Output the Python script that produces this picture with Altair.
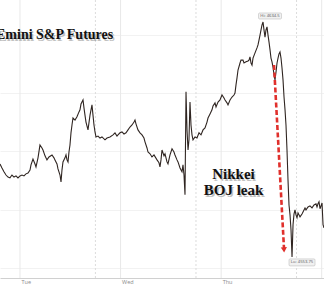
import altair as alt
import pandas as pd

# Time in hours from Tuesday 00:00 (ET), and the Emini S&P futures price
hours = [-4.77, -4.30, -3.82, -3.34, -2.86, -2.39, -1.91, -1.43, -0.95, -0.48,
         0.00, 0.48, 0.95, 1.43, 1.91, 2.39, 2.63, 3.10, 3.58, 3.82,
         4.30, 4.77, 5.25, 5.49, 5.97, 6.44, 6.92, 7.64, 8.11, 8.35,
         8.83, 9.07, 9.55, 9.79, 10.02, 10.26, 10.74, 10.98, 11.22, 11.46,
         11.69, 11.93, 12.17, 12.41, 12.65, 13.13, 13.60, 14.08, 14.32, 14.56,
         15.04, 15.27, 15.51, 15.75, 16.23, 16.71, 17.18, 17.42, 17.66, 17.90,
         18.14, 18.62, 19.09, 19.57, 20.29, 20.76, 21.48, 22.20, 22.67, 23.15,
         23.39, 23.87, 24.34, 24.82, 25.30, 25.78, 26.25, 26.73, 27.21, 27.45,
         27.68, 28.16, 28.64, 29.12, 29.59, 29.83, 30.31, 30.55, 31.03, 31.50,
         31.98, 32.70, 33.17, 33.41, 33.65, 33.89, 34.37, 34.61, 35.08, 35.32,
         35.80, 36.28, 36.75, 36.99, 37.47, 37.71, 38.19, 38.66, 38.90, 39.14,
         39.38, 39.62, 39.86, 40.10, 40.33, 40.57, 40.81, 41.05, 41.29, 41.77,
         42.24, 42.72, 43.20, 43.68, 44.15, 44.63, 44.87, 45.35, 45.82, 46.06,
         46.54, 46.78, 47.26, 47.73, 48.21, 48.69, 48.93, 49.40, 49.64, 50.12,
         50.60, 51.07, 51.31, 51.55, 51.79, 52.03, 52.51, 52.74, 53.22, 53.46,
         53.94, 54.42, 54.65, 54.89, 55.13, 55.37, 55.61, 56.09, 56.56, 56.80,
         57.04, 57.28, 57.52, 57.76, 58.00, 58.23, 58.47, 58.71, 58.95, 59.19,
         59.43, 59.67, 59.90, 60.14, 60.38, 60.62, 60.86, 61.10, 61.34, 61.58,
         61.81, 62.05, 62.29, 62.53, 62.77, 63.01, 63.25, 63.48, 63.72, 63.96,
         64.20, 64.44, 64.68, 64.92, 65.16, 65.39, 65.63, 65.87, 66.11, 66.35,
         66.83, 67.30, 67.54, 68.02, 68.26, 68.74, 69.21, 69.69, 70.17, 70.64,
         70.88, 71.12, 71.36, 71.60, 71.84, 72.08, 72.32, 72.55]
prices = [4585.7, 4584.3, 4583.0, 4581.9, 4581.2, 4580.9, 4581.9, 4581.2, 4581.6, 4580.9,
          4581.6, 4581.9, 4581.6, 4582.3, 4582.6, 4583.6, 4585.4, 4587.4, 4585.7, 4584.7,
          4587.8, 4592.2, 4591.2, 4590.5, 4588.5, 4587.1, 4588.1, 4588.8, 4587.8, 4587.1,
          4585.7, 4584.0, 4581.9, 4579.5, 4583.6, 4586.4, 4587.8, 4588.8, 4587.1, 4586.4,
          4589.8, 4592.2, 4596.4, 4599.1, 4601.5, 4600.8, 4601.9, 4603.6, 4604.3, 4606.3,
          4607.7, 4605.0, 4602.5, 4600.1, 4597.4, 4602.5, 4606.0, 4602.5, 4599.1, 4596.7,
          4595.0, 4595.3, 4594.6, 4595.0, 4594.0, 4594.6, 4595.0, 4595.7, 4596.4, 4595.3,
          4595.7, 4596.4, 4596.7, 4596.0, 4596.4, 4597.4, 4598.4, 4599.1, 4600.1, 4600.8,
          4599.5, 4597.4, 4596.4, 4595.7, 4594.6, 4593.3, 4591.2, 4589.8, 4589.2, 4588.1,
          4588.8, 4587.1, 4586.1, 4584.7, 4587.1, 4590.5, 4588.5, 4589.2, 4586.4, 4585.7,
          4588.8, 4590.9, 4589.8, 4588.8, 4587.1, 4586.4, 4584.3, 4583.0, 4585.4, 4581.9,
          4575.1, 4610.5, 4597.4, 4590.5, 4594.0, 4607.0, 4599.1, 4595.7, 4594.0, 4595.0,
          4594.6, 4596.4, 4595.7, 4597.4, 4598.1, 4600.1, 4601.5, 4602.9, 4604.3, 4605.6,
          4606.7, 4605.3, 4607.0, 4607.7, 4609.4, 4608.4, 4607.7, 4606.7, 4606.0, 4607.7,
          4608.7, 4609.4, 4610.1, 4612.9, 4615.3, 4618.0, 4620.4, 4621.4, 4621.4, 4620.4,
          4620.8, 4621.1, 4621.4, 4622.5, 4620.4, 4619.7, 4622.1, 4623.9, 4625.6, 4626.6,
          4628.3, 4630.0, 4631.8, 4633.5, 4634.5, 4631.8, 4629.3, 4631.8, 4632.8, 4630.0,
          4627.6, 4624.9, 4622.1, 4620.8, 4619.0, 4616.3, 4614.6, 4617.3, 4620.4, 4622.1,
          4623.5, 4624.2, 4622.1, 4618.7, 4614.6, 4608.7, 4604.3, 4599.1, 4590.5, 4580.2,
          4571.6, 4568.2, 4563.0, 4553.75, 4564.8, 4568.5, 4569.9, 4568.2, 4567.2, 4568.9,
          4567.5, 4568.5, 4569.2, 4570.6, 4569.9, 4570.9, 4571.3, 4570.6, 4571.6, 4572.0,
          4570.9, 4572.0, 4572.7, 4570.3, 4571.3, 4572.3, 4564.8, 4563.7]

day_starts = [0, 24, 48, 72]
day_names = ["Tue", "Wed", "Thu"]
session_opens = [18, 42, 66]

hi_hour, hi_price = 58.00, 4634.5
lo_hour, lo_price = 64.92, 4553.75
arrow_from = (60.62, 4619.7)
arrow_to = (63.01, 4556.5)

x_domain = [-4.77, 72.55]
y_domain = [4546.5, 4642.06]

W, H = 324, 278

price_df = pd.DataFrame({"h": hours, "p": prices})
xs = alt.Scale(domain=x_domain, nice=False, zero=False)
ys = alt.Scale(domain=y_domain, nice=False, zero=False)

label_expr = (
    "datum.value == 0 ? '%s' : datum.value == 24 ? '%s' : datum.value == 48 ? '%s' : ''"
    % tuple(day_names)
)

grid = alt.Chart(pd.DataFrame({"p": [4600]})).mark_point(opacity=0).encode(
    x=alt.X("p:Q", scale=xs, title=None,
            axis=alt.Axis(values=day_starts[:3], labelExpr=label_expr, grid=False,
                          ticks=False, domainColor="#d0d0d0", domainWidth=1,
                          labelColor="#8a8a8a", labelFontSize=5.5, labelFont="Open Sans",
                          labelAlign="left", labelPadding=1.5, labelOffset=1)),
    y=alt.Y("p:Q", scale=ys, title=None,
            axis=alt.Axis(values=list(range(4550, 4645, 5)), labels=False, ticks=False,
                          domain=False, grid=True, gridColor="#f2f2f2", gridWidth=1)),
)

day_rules = alt.Chart(pd.DataFrame({"h": day_starts})).mark_rule(
    color="#e8e8e8", strokeWidth=1).encode(x=alt.X("h:Q", scale=xs))

session_rules = alt.Chart(pd.DataFrame({"h": session_opens})).mark_rule(
    color="#dcdcdc", strokeWidth=1, strokeDash=[2, 2]).encode(x=alt.X("h:Q", scale=xs))

line = alt.Chart(price_df).mark_line(color="#2f2521", strokeWidth=1.1).encode(
    x=alt.X("h:Q", scale=xs), y=alt.Y("p:Q", scale=ys))

arrow_df = pd.DataFrame({"h": [arrow_from[0]], "p": [arrow_from[1]],
                         "h2": [arrow_to[0]], "p2": [arrow_to[1]]})
arrow_line = alt.Chart(arrow_df).mark_rule(
    color="#e0302c", strokeWidth=2.6, strokeDash=[5, 2.5]).encode(
    x=alt.X("h:Q", scale=xs), y=alt.Y("p:Q", scale=ys), x2="h2:Q", y2="p2:Q")
arrow_head = alt.Chart(arrow_df).mark_point(
    shape="triangle-down", filled=True, color="#e0302c", size=38, opacity=1, angle=357,
    yOffset=1).encode(x=alt.X("h2:Q", scale=xs), y=alt.Y("p2:Q", scale=ys))

hl_df = pd.DataFrame({"h": [hi_hour, lo_hour], "p": [hi_price, lo_price],
                      "t": ["Hi: %s" % hi_price, "Lo: %s" % lo_price]})
hi_box = alt.Chart(hl_df.iloc[[0]]).mark_rect(
    width=23, height=6, fill="#f1f1f1", stroke="#bdbdbd", strokeWidth=0.6,
    cornerRadius=1, xOffset=7, yOffset=-6).encode(
    x=alt.X("h:Q", scale=xs), y=alt.Y("p:Q", scale=ys))
lo_box = alt.Chart(hl_df.iloc[[1]]).mark_rect(
    width=26, height=7, fill="#f1f1f1", stroke="#bdbdbd", strokeWidth=0.6,
    cornerRadius=1, xOffset=10, yOffset=5.5).encode(
    x=alt.X("h:Q", scale=xs), y=alt.Y("p:Q", scale=ys))
hi_txt = alt.Chart(hl_df.iloc[[0]]).mark_text(
    fontSize=4.2, color="#555", font="Open Sans", dx=7, dy=-6, baseline="middle").encode(
    x=alt.X("h:Q", scale=xs), y=alt.Y("p:Q", scale=ys), text="t:N")
lo_txt = alt.Chart(hl_df.iloc[[1]]).mark_text(
    fontSize=4.2, color="#555", font="Open Sans", dx=10, dy=5.5, baseline="middle").encode(
    x=alt.X("h:Q", scale=xs), y=alt.Y("p:Q", scale=ys), text="t:N")


def label(text, x, y, size, align):
    shadow = alt.Chart(pd.DataFrame({"t": [text]})).mark_text(
        font="Liberation Serif", fontWeight="bold", fontSize=size, color="#777",
        opacity=0.45, align=align, baseline="alphabetic", clip=True).encode(
        x=alt.value(x + 1.5), y=alt.value(y + 1.5), text="t:N")
    main = alt.Chart(pd.DataFrame({"t": [text]})).mark_text(
        font="Liberation Serif", fontWeight="bold", fontSize=size, color="#111",
        align=align, baseline="alphabetic", clip=True).encode(
        x=alt.value(x), y=alt.value(y), text="t:N")
    return [shadow, main]


texts = (label("Emini S&P Futures", -4, 39, 14, "left")
         + label("Nikkei", 233.5, 179, 15, "center")
         + label("BOJ leak", 233.5, 195, 15, "center"))

chart = alt.layer(grid, day_rules, session_rules, line, arrow_line, arrow_head,
                  hi_box, lo_box, hi_txt, lo_txt, *texts).properties(
    width=W, height=H,
    autosize=alt.AutoSizeParams(type="none"),
    padding={"left": 0, "top": 0, "right": 0, "bottom": 7},
).configure_view(stroke=None)

chart.save("out.html", embed_options={"renderer": "svg", "actions": False})
